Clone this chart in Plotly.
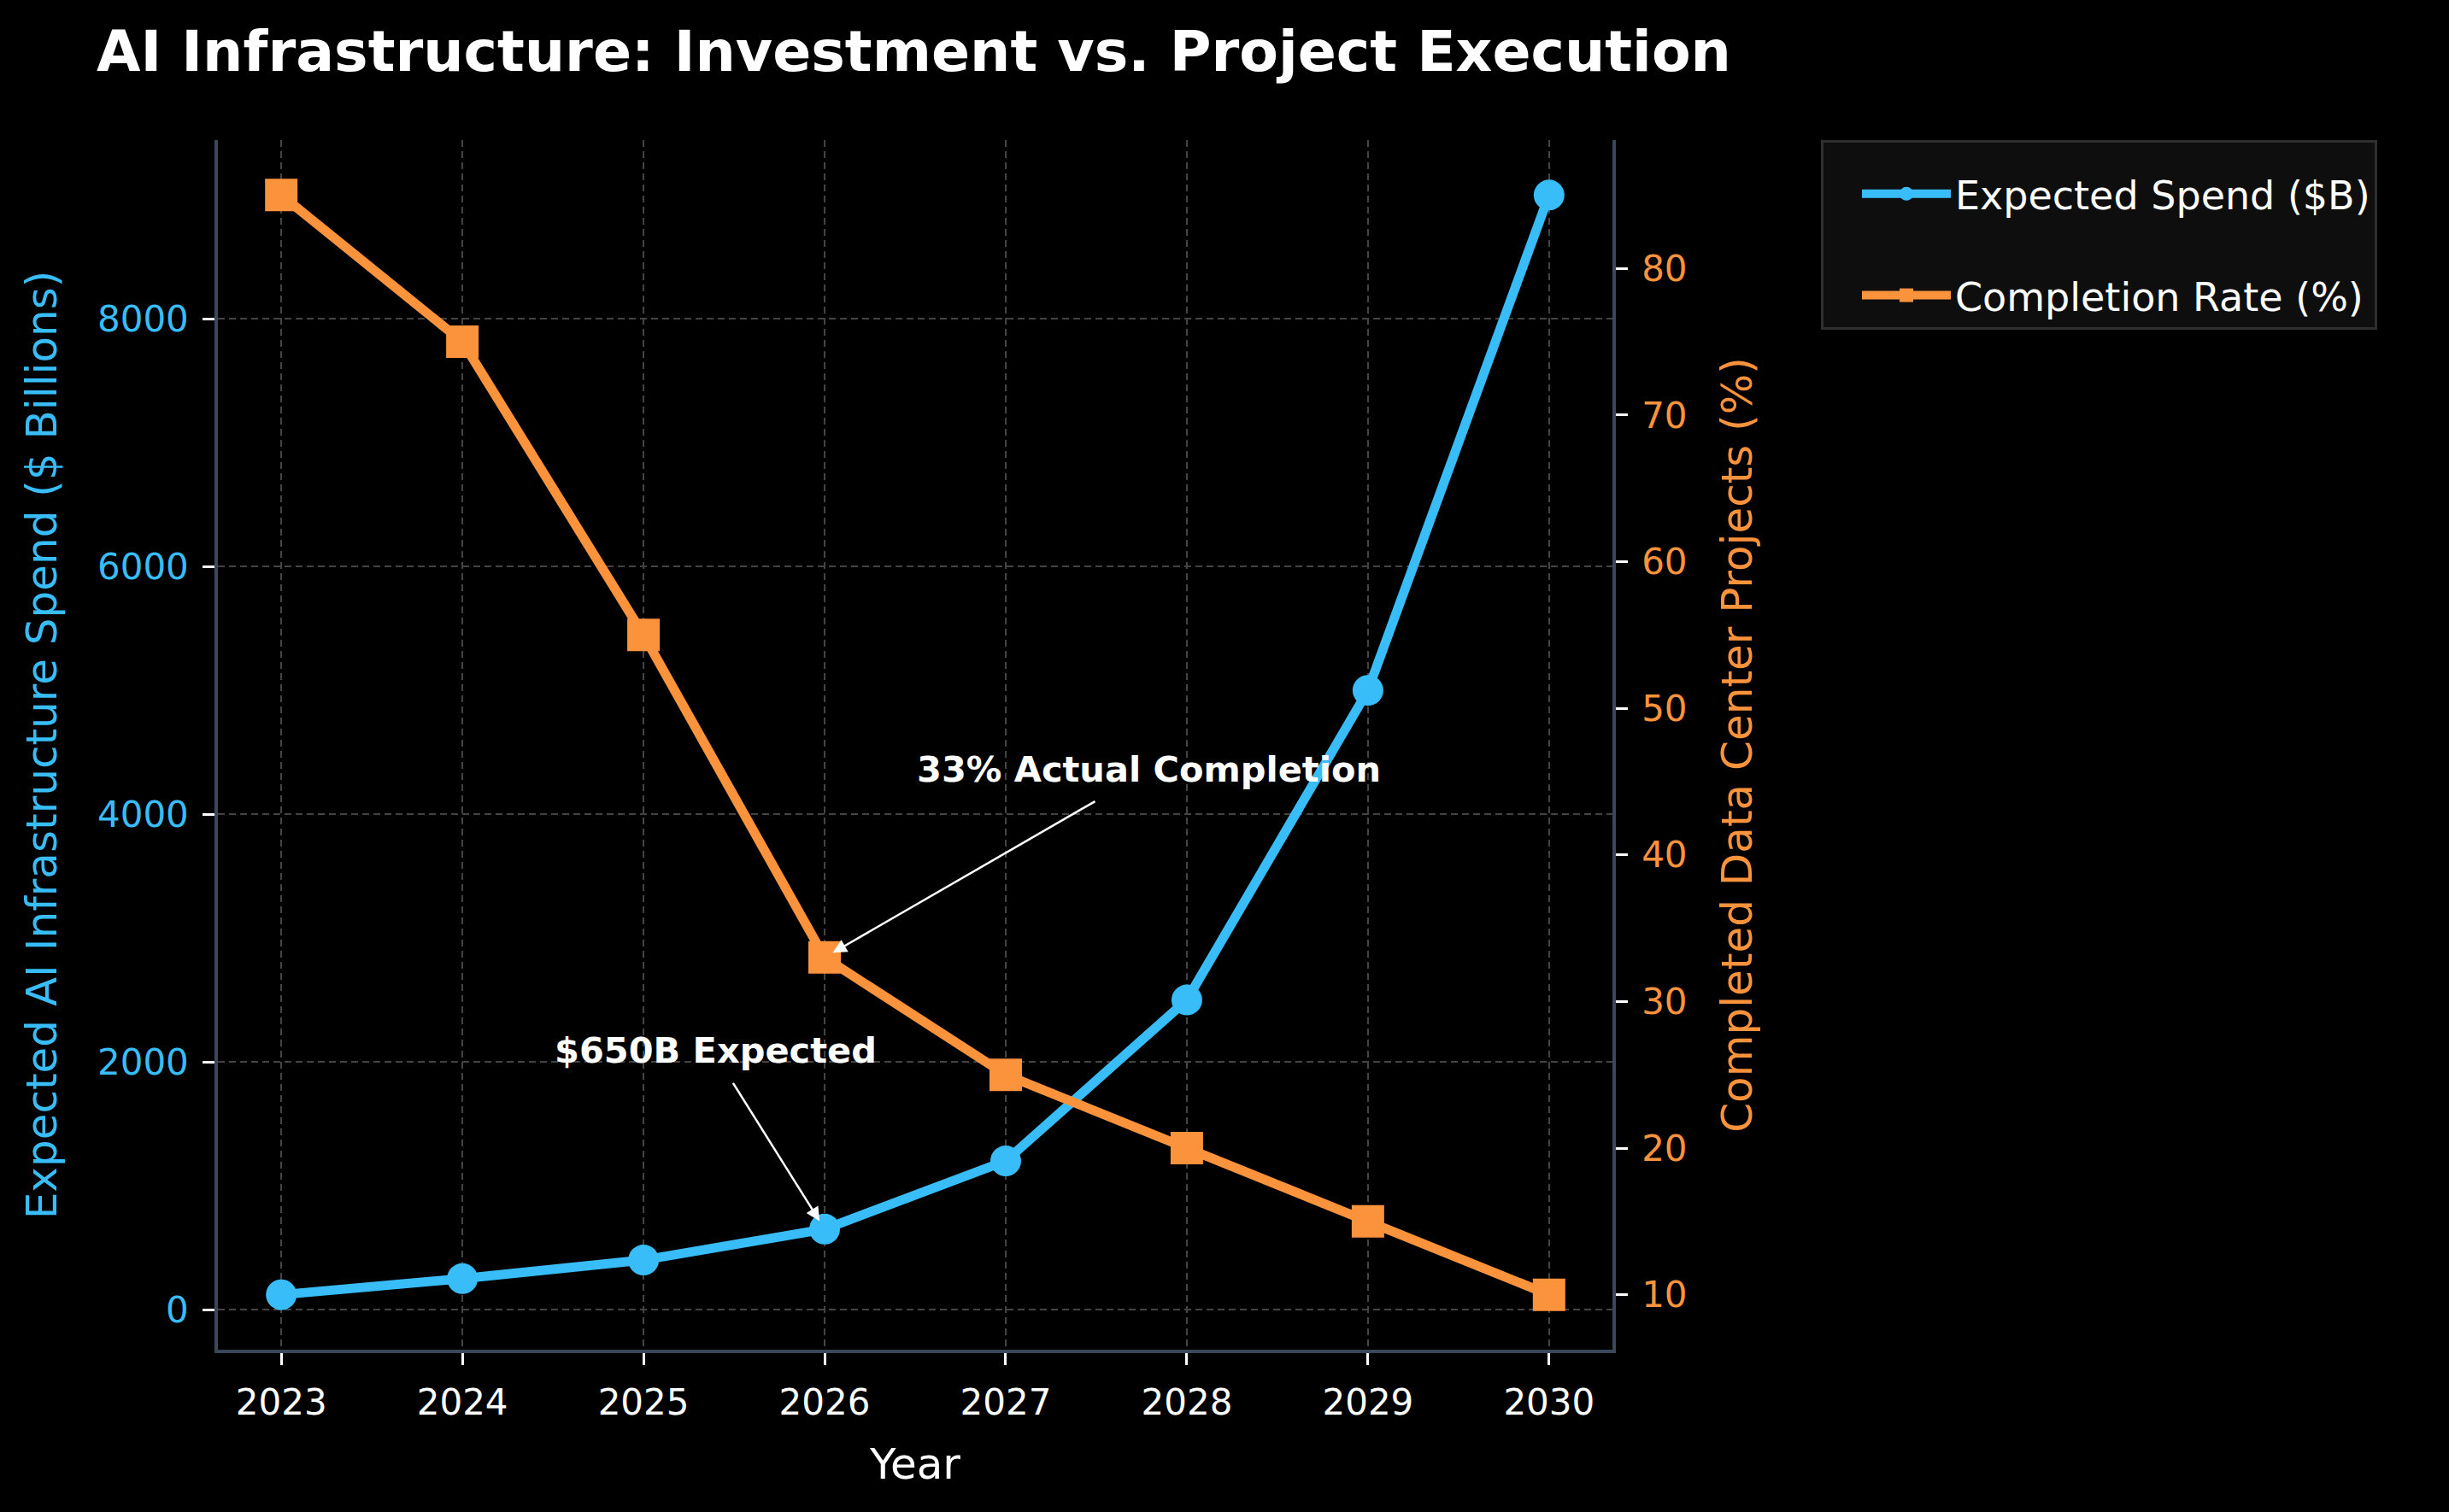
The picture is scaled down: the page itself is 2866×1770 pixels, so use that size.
import plotly.graph_objects as go

years = [2023, 2024, 2025, 2026, 2027, 2028, 2029, 2030]
spend = [120, 250, 400, 650, 1200, 2500, 5000, 9000]
completion = [85, 75, 55, 33, 25, 20, 15, 10]

BLUE = "#38bdf8"
ORANGE = "#fb923c"
SPINE = "#3b475a"
GRID = "#444444"
FONT = "DejaVu Sans"

fig = go.Figure()
fig.add_trace(go.Scatter(
    x=years, y=spend, name="Expected Spend ($B)", mode="lines+markers",
    line=dict(color=BLUE, width=11), marker=dict(symbol="circle", size=36, color=BLUE),
    yaxis="y", legendgroup="a"))
fig.add_trace(go.Scatter(
    x=years, y=completion, name="Completion Rate (%)", mode="lines+markers",
    line=dict(color=ORANGE, width=11), marker=dict(symbol="square", size=38, color=ORANGE),
    yaxis="y2", legendgroup="b"))

# arrows
fig.add_annotation(x=2026, y=33, xref="x", yref="y2", ax=2027.5, ay=43.7, axref="x", ayref="y2",
                   text="", showarrow=True, arrowhead=2, arrowsize=1.3, arrowwidth=2.5,
                   arrowcolor="white", standoff=11)
fig.add_annotation(x=2026, y=650, xref="x", yref="y", ax=2025.49, ay=1840, axref="x", ayref="y",
                   text="", showarrow=True, arrowhead=2, arrowsize=1.3, arrowwidth=2.5,
                   arrowcolor="white", standoff=11)
# texts
fig.add_annotation(x=2026.5, y=45.84, xref="x", yref="y2", text="<b>33% Actual Completion</b>",
                   showarrow=False, xanchor="left", yanchor="middle",
                   font=dict(family=FONT, size=41.5, color="white"))
fig.add_annotation(x=2024.5, y=2094, xref="x", yref="y", text="<b>$650B Expected</b>",
                   showarrow=False, xanchor="left", yanchor="middle",
                   font=dict(family=FONT, size=41.5, color="white"))

fig.update_layout(
    width=2866, height=1770,
    paper_bgcolor="black", plot_bgcolor="black",
    margin=dict(l=255, r=979, t=164, b=190, autoexpand=False),
    font=dict(family=FONT, color="white", size=42),
    title=dict(text="<b>AI Infrastructure: Investment vs. Project Execution</b>",
               x=113 / 2866, xref="container", xanchor="left",
               y=1 - 60 / 1770, yref="container", yanchor="middle",
               font=dict(family=FONT, size=66.5, color="white")),
    xaxis=dict(range=[2022.65, 2030.35], tickvals=years, ticktext=[str(y) for y in years],
               showline=True, linecolor=SPINE, linewidth=3.5, mirror=False,
               ticks="outside", ticklen=14, tickwidth=2.5, tickcolor="white",
               tickfont=dict(family=FONT, size=42, color="white"), ticklabelstandoff=8,
               showgrid=True, gridcolor=GRID, gridwidth=2, griddash="8px,5px", zeroline=False,
               title=dict(text="Year", font=dict(family=FONT, size=50, color="white"), standoff=32)),
    yaxis=dict(range=[-324, 9444], tickvals=[0, 2000, 4000, 6000, 8000],
               showline=True, linecolor=SPINE, linewidth=3.5,
               ticks="outside", ticklen=14, tickwidth=2.5, tickcolor="white",
               tickfont=dict(family=FONT, size=42, color=BLUE), ticklabelstandoff=8,
               showgrid=True, gridcolor=GRID, gridwidth=2, griddash="8px,5px", zeroline=False,
               title=dict(text="Expected AI Infrastructure Spend ($ Billions)",
                          font=dict(family=FONT, size=50, color=BLUE), standoff=32)),
    yaxis2=dict(range=[6.25, 88.75], tickvals=[10, 20, 30, 40, 50, 60, 70, 80],
                overlaying="y", side="right", anchor="x",
                showline=True, linecolor=SPINE, linewidth=3.5,
                ticks="outside", ticklen=14, tickwidth=2.5, tickcolor="white",
                tickfont=dict(family=FONT, size=42, color=ORANGE), ticklabelstandoff=8,
                showgrid=False, zeroline=False,
                title=dict(text="Completed Data Center Projects (%)",
                           font=dict(family=FONT, size=50, color=ORANGE), standoff=42)),
    legend=dict(x=(2131 - 255) / 1632, y=1, xanchor="left", yanchor="top",
                bgcolor="#0e0e0e", bordercolor="#2f2f2f", borderwidth=3,
                font=dict(family=FONT, size=46, color="white"),
                title=dict(text="&nbsp;", font=dict(size=18)),
                tracegroupgap=56, itemwidth=104, indentation=40),
    showlegend=True,
)

fig.write_html("out.html")
